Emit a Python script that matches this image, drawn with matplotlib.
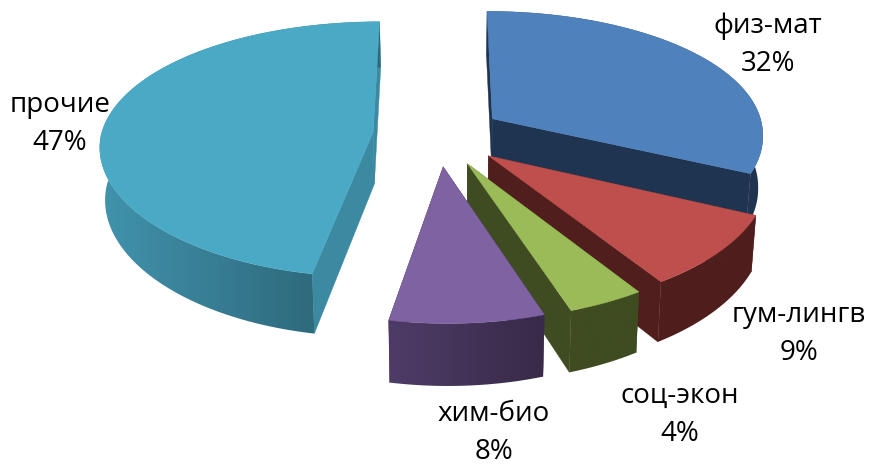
import numpy as np
import matplotlib
matplotlib.use('Agg')
import matplotlib.pyplot as plt
from matplotlib.colors import to_rgb
from matplotlib.patches import Polygon

# данные
categories = ['физ-мат', 'гум-лингв', 'соц-экон', 'хим-био', 'прочие']
values = [32, 9, 4, 8, 47]

# цвета: верх, стенки, край дуги слева и справа
top_colors = ['#4F81BD', '#BE4F4C', '#9BBB59', '#7F62A1', '#4AA9C4']
wall_colors = ['#1F3450', '#4F1E1D', '#3F4B21', '#3C2D4E', '#3C89A2']
arc_left = ['#1F3450', '#4F1E1D', '#3F4B21', '#4E3C68', '#4193AD']
arc_right = ['#1F3450', '#4F1E1D', '#3F4B21', '#382A48', '#2F6A7D']

# положение подписей
label_pos = [(768, 45), (799, 334), (680, 415), (494, 433), (60, 124)]

# параметры проекции
cx, cy = 438, 135
rx, ry = 272, 126
persp_x, persp_y = 0.11, 0.135
depth = 52
explode_x, explode_y = 0.24, 0.245
skew = 4
vanish_x, shrink = 455, 0.985
draw_order = [4, 0, 1, 2, 3]


def project(x, y, z=0.0):
    # y > 0 ближе к зрителю, z = 1 нижняя грань
    y = np.asarray(y)
    s = 1 / (1 - persp_y * y)
    px = cx + rx * np.asarray(x) / (1 - persp_x * y) + skew * np.clip(y, 0, None)
    px = vanish_x + (px - vanish_x) * (1 - (1 - shrink) * z)
    return px, cy + ry * y * s + depth * z * s


fig = plt.figure(figsize=(8.71, 4.66), dpi=100)
ax = fig.add_axes([0, 0, 1, 1])
ax.axis('off')

edges = np.cumsum([0] + values) / sum(values) * 2 * np.pi

for n, i in enumerate(draw_order):
    base_z = 3 * n + 1
    a0, a1 = edges[i], edges[i + 1]
    mid = (a0 + a1) / 2
    ox, oy = explode_x * np.sin(mid), -explode_y * np.cos(mid)
    t = np.linspace(a0, a1, 160)
    xs = ox + np.sin(t)
    ys = oy - np.cos(t)

    # радиальные стенки
    for a in (a0, a1):
        wx = np.array([ox, ox + np.sin(a)])
        wy = np.array([oy, oy - np.cos(a)])
        px0, py0 = project(wx, wy, 0)
        px1, py1 = project(wx, wy, 1)
        ax.add_patch(Polygon(np.column_stack([np.r_[px0, px1[::-1]], np.r_[py0, py1[::-1]]]),
                             fc=wall_colors[i], ec=wall_colors[i], lw=0.3, zorder=base_z))

    # внешняя стенка: горизонтальный градиент, обрезанный по контуру
    px0, py0 = project(xs, ys, 0)
    px1, py1 = project(xs, ys, 1)
    front = ys > 0
    x_l, x_r = px0[front].min(), px0[front].max()
    grid = np.linspace(min(px0.min(), px1.min()) - 2, max(px0.max(), px1.max()) + 2, 256)
    f = np.interp(grid, [x_l, x_r], [0, 1])[None, :, None]
    img = np.array(to_rgb(arc_left[i]))[None, None, :] * (1 - f) + np.array(to_rgb(arc_right[i]))[None, None, :] * f
    outer = Polygon(np.column_stack([np.r_[px0, px1[::-1]], np.r_[py0, py1[::-1]]]),
                    fc='none', ec='none', zorder=base_z + 1)
    ax.add_patch(outer)
    im = ax.imshow(img, extent=(grid[0], grid[-1], py1.max() + 2, py0.min() - 2),
                   aspect='auto', interpolation='bilinear', zorder=base_z + 1)
    im.set_clip_path(outer)

    # верхняя грань
    top_x, top_y = project(np.r_[ox, xs], np.r_[oy, ys], 0)
    ax.add_patch(Polygon(np.column_stack([top_x, top_y]), fc=top_colors[i], ec=top_colors[i],
                         lw=0.3, zorder=base_z + 2))

ax.set_xlim(0, 871)
ax.set_ylim(466, 0)

# подписи
for name, v, (lx, ly) in zip(categories, values, label_pos):
    ax.text(lx, ly, f'{name}\n{v}%', ha='center', va='center', fontsize=20,
            family='Open Sans', color='black', linespacing=1.45, zorder=50)

fig.savefig('out.png', dpi=100)
